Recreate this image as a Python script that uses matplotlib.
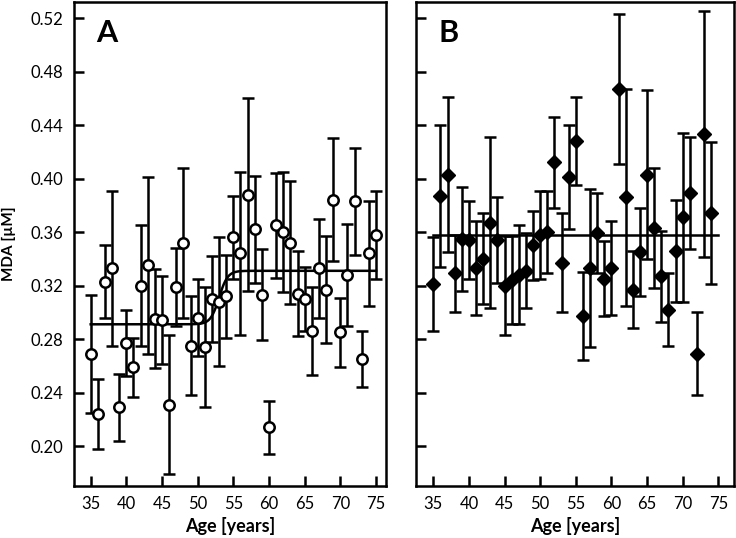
import numpy as np
import matplotlib.pyplot as plt

plt.rcParams['font.family'] = ['Lato', 'DejaVu Sans']

# panel A: MDA vs age (open circles)
age_a = np.arange(35, 76)
mda_a = [0.269, 0.224, 0.323, 0.333, 0.229, 0.277, 0.259, 0.320, 0.335, 0.295,
         0.294, 0.231, 0.319, 0.352, 0.275, 0.296, 0.274, 0.310, 0.308, 0.312,
         0.356, 0.344, 0.388, 0.362, 0.313, 0.214, 0.365, 0.360, 0.352, 0.314,
         0.310, 0.286, 0.333, 0.317, 0.384, 0.285, 0.328, 0.383, 0.265, 0.344,
         0.358]
err_a = [0.044, 0.026, 0.027, 0.058, 0.025, 0.025, 0.022, 0.045, 0.066, 0.037,
         0.033, 0.052, 0.029, 0.056, 0.037, 0.029, 0.045, 0.032, 0.048, 0.031,
         0.031, 0.061, 0.072, 0.040, 0.034, 0.020, 0.039, 0.045, 0.046, 0.032,
         0.024, 0.033, 0.037, 0.040, 0.046, 0.026, 0.038, 0.040, 0.021, 0.039,
         0.033]

# panel B: MDA vs age (filled diamonds)
age_b = np.arange(35, 75)
mda_b = [0.321, 0.387, 0.403, 0.329, 0.355, 0.354, 0.333, 0.340, 0.367, 0.354,
         0.320, 0.324, 0.328, 0.331, 0.350, 0.358, 0.360, 0.412, 0.337, 0.401,
         0.428, 0.297, 0.333, 0.359, 0.325, 0.333, 0.467, 0.386, 0.317, 0.345,
         0.403, 0.363, 0.327, 0.302, 0.346, 0.371, 0.389, 0.269, 0.433, 0.374]
err_b = [0.035, 0.053, 0.058, 0.029, 0.039, 0.029, 0.035, 0.034, 0.064, 0.032,
         0.037, 0.033, 0.037, 0.028, 0.026, 0.033, 0.031, 0.034, 0.037, 0.039,
         0.033, 0.033, 0.059, 0.030, 0.028, 0.035, 0.056, 0.081, 0.029, 0.033,
         0.063, 0.045, 0.034, 0.027, 0.038, 0.063, 0.042, 0.031, 0.092, 0.053]

# fitted curves
fit_a_low, fit_a_high, fit_a_mid, fit_a_w = 0.291, 0.331, 53.0, 0.6
fit_b = 0.358

fig = plt.figure(figsize=(7.36, 5.38), dpi=100)
ax1 = fig.add_axes([74 / 736, 52 / 538, 312 / 736, 484 / 538])
ax2 = fig.add_axes([416 / 736, 52 / 538, 318 / 736, 484 / 538])

xf = np.linspace(35, 75, 400)
yf = fit_a_low + (fit_a_high - fit_a_low) / (1 + np.exp(-(xf - fit_a_mid) / fit_a_w))
ax1.plot(xf, yf, color='black', lw=1.8, zorder=2)
ax1.errorbar(age_a, mda_a, yerr=err_a, fmt='o', mfc='white', mec='black', mew=1.8,
             ms=7.5, ecolor='black', elinewidth=1.8, capsize=4.5, capthick=1.8, zorder=3)

ax2.plot([35, 75], [fit_b, fit_b], color='black', lw=1.8, zorder=2)
ax2.errorbar(age_b, mda_b, yerr=err_b, fmt='D', mfc='black', mec='black',
             ms=7.5, ecolor='black', elinewidth=1.8, capsize=4.5, capthick=1.8, zorder=3)

yticks = np.arange(0.20, 0.5201, 0.04)
for ax, xl in ((ax1, (32.66, 76.4)), (ax2, (32.57, 77.2))):
    ax.set_xlim(*xl)
    ax.set_ylim(0.1701, 0.532)
    ax.set_xticks(range(35, 76, 5))
    ax.set_yticks(yticks)
    ax.tick_params(direction='in', length=7, width=1.8, labelsize=12, pad=8)
    ax.tick_params(axis='x', pad=7)
    for s in ax.spines.values():
        s.set_linewidth(1.8)
    ax.set_xlabel('Age [years]', fontsize=13, fontweight='bold', labelpad=4)

ax1.set_yticklabels(['%.2f' % v for v in yticks])
ax2.set_yticklabels([])
ax1.set_ylabel('MDA [µM]', fontsize=11, fontweight='bold', labelpad=10)

ax1.text(0.07, 0.965, 'A', transform=ax1.transAxes, fontsize=22, fontweight='bold', va='top')
ax2.text(0.07, 0.965, 'B', transform=ax2.transAxes, fontsize=22, fontweight='bold', va='top')

fig.savefig('out.png', dpi=100)
